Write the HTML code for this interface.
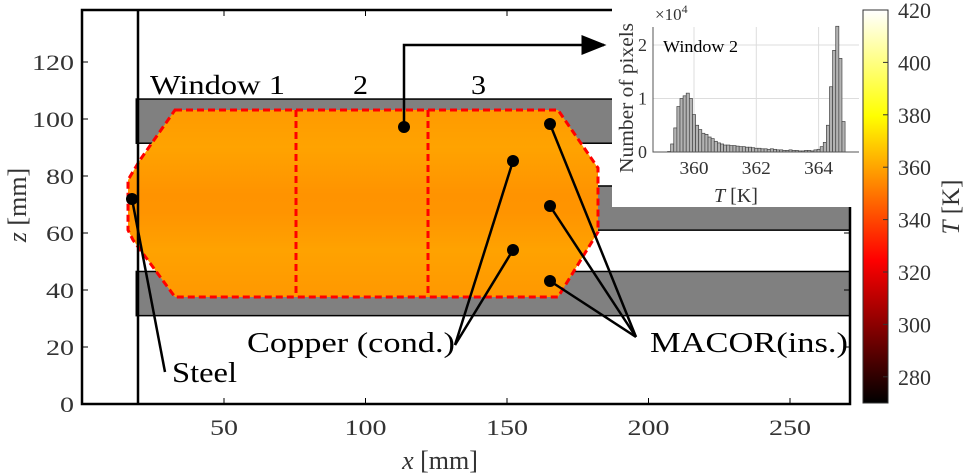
<!DOCTYPE html>
<html><head><meta charset="utf-8">
<style>
body{margin:0;background:#fff;}
svg{display:block;font-family:"Liberation Serif",serif;}
</style></head>
<body>
<svg id="fig" width="964" height="475" viewBox="0 0 964 475" xmlns="http://www.w3.org/2000/svg">
<defs>
<linearGradient id="cmap" x1="0" y1="1" x2="0" y2="0">
<stop offset="0" stop-color="#000"/><stop offset="0.365" stop-color="#ff0000"/><stop offset="0.73" stop-color="#ffff00"/><stop offset="1" stop-color="#ffffff"/>
</linearGradient>
<linearGradient id="orng" x1="0" y1="0" x2="0" y2="1">
<stop offset="0" stop-color="#ff9a00"/><stop offset="0.2" stop-color="#ffa300"/><stop offset="0.45" stop-color="#ff9300"/><stop offset="0.55" stop-color="#ff9400"/><stop offset="0.75" stop-color="#ffa200"/><stop offset="1" stop-color="#ff9800"/>
</linearGradient>
<marker id="arr" markerWidth="10" markerHeight="8" refX="9" refY="4" orient="auto"><path d="M0,0 L10,4 L0,8 Z" fill="#000"/></marker>
</defs>
<g id="main"></g>
<g id="inset"></g>
<g id="cbar"></g>
</svg>
<script>
const xTicks=[50,100,150,200,250];
const yTicks=[0,20,40,60,80,100,120];
const cbTicks=[280,300,320,340,360,380,400,420];
const histStart=359.15, histWidth=0.1;
const histCounts=[0.01,0.15,0.45,0.85,1.0,1.05,1.1,1.0,0.7,0.5,0.42,0.35,0.33,0.28,0.25,0.2,0.17,0.15,0.13,0.13,0.12,0.12,0.11,0.1,0.1,0.09,0.09,0.08,0.07,0.07,0.06,0.06,0.05,0.06,0.05,0.04,0.04,0.03,0.03,0.04,0.03,0.03,0.02,0.02,0.03,0.03,0.02,0.04,0.05,0.1,0.18,0.5,1.22,1.9,2.35,1.75,0.57];
const histXTicks=[360,362,364];
const histYTicks=[0,1,2];

const NS="http://www.w3.org/2000/svg";
function mk(p,tag,a,txt){const e=document.createElementNS(NS,tag);for(const k in a)e.setAttribute(k,a[k]);if(txt!==undefined)e.textContent=txt;p.appendChild(e);return e;}
const X=v=>82.5+v*2.83, Y=v=>404-v*2.85;
const main=document.getElementById('main');
let r;
r=mk(main,'rect',{x:X(19),y:Y(107),width:850-X(19),height:Y(91.5)-Y(107),fill:'#808080',stroke:'#000','stroke-width':1.5});

r=mk(main,'rect',{x:X(19),y:Y(76.5),width:850-X(19),height:Y(61)-Y(76.5),fill:'#808080',stroke:'#000','stroke-width':1.5});

r=mk(main,'rect',{x:X(19),y:Y(46.5),width:850-X(19),height:Y(31)-Y(46.5),fill:'#808080',stroke:'#000','stroke-width':1.5});

let poly=mk(main,'polygon',{points:'175,110 558,110 598,168 598,232 558,297 175,297 133,240 128,230 128,180 140,160',fill:'url(#orng)',stroke:'#ff0000','stroke-width':3,'stroke-dasharray':'7,4'});

[296,428].forEach((x,i)=>{const l=mk(main,'line',{x1:x,y1:110,x2:x,y2:297,stroke:'#ff0000','stroke-width':3,'stroke-dasharray':'7,4'});
});
let ax=mk(main,'rect',{x:82,y:10,width:768,height:394,fill:'none',stroke:'#000','stroke-width':2.5});

let st=mk(main,'line',{x1:138,y1:10,x2:138,y2:404,stroke:'#000','stroke-width':2.5});

xTicks.forEach(v=>{mk(main,'line',{x1:X(v),y1:404,x2:X(v),y2:398,stroke:'#000'});mk(main,'line',{x1:X(v),y1:10,x2:X(v),y2:16,stroke:'#000'});
const s=String(v);
const t=mk(main,'text',{x:X(v),y:435,'text-anchor':'middle','font-size':22,fill:'#333',textLength:s.length*14,lengthAdjust:'spacingAndGlyphs'},s);
});
yTicks.forEach(v=>{mk(main,'line',{x1:82,y1:Y(v),x2:88,y2:Y(v),stroke:'#000'});mk(main,'line',{x1:850,y1:Y(v),x2:844,y2:Y(v),stroke:'#000'});
const s=String(v);
const t=mk(main,'text',{x:74,y:Y(v)+8,'text-anchor':'end','font-size':22,fill:'#333',textLength:s.length*14,lengthAdjust:'spacingAndGlyphs'},s);
});
let xl=mk(main,'text',{x:440,y:469,'text-anchor':'middle','font-size':26,fill:'#333'});xl.innerHTML='<tspan font-style="italic">x</tspan> [mm]';

let yl=mk(main,'text',{x:0,y:0,'text-anchor':'middle','font-size':26,fill:'#333',transform:'translate(26,205) rotate(-90)'});yl.innerHTML='<tspan font-style="italic">z</tspan> [mm]';

[['Window 1',150,135],['2',353,15],['3',471,15]].forEach(([s,x,w])=>{const t=mk(main,'text',{x:x,y:94,'font-size':27,fill:'#000',textLength:w,lengthAdjust:'spacingAndGlyphs'},s);
});
const lines=[[132,199,165,372],[513,161,455,345],[513,250,455,345],[550,124,636,337],[550,206,636,337],[550,281,636,337]];
lines.forEach(l=>{const e=mk(main,'line',{x1:l[0],y1:l[1],x2:l[2],y2:l[3],stroke:'#000','stroke-width':2.5});
});
let ar=mk(main,'polyline',{points:'404,127 404,45 604,45',fill:'none',stroke:'#000','stroke-width':2.5,'marker-end':'url(#arr)'});

[[132,199],[404,127],[513,161],[513,250],[550,124],[550,206],[550,281]].forEach(p=>{const c=mk(main,'circle',{cx:p[0],cy:p[1],r:6,fill:'#000'});
});
[['Steel',172,382,65],['Copper (cond.)',247,352,208],['MACOR(ins.)',650,352,198]].forEach(([s,x,y,w])=>{const t=mk(main,'text',{x:x,y:y,'font-size':28,fill:'#000',textLength:w,lengthAdjust:'spacingAndGlyphs'},s);
});

const ins=document.getElementById('inset');
let bg=mk(ins,'rect',{x:612,y:0,width:248,height:207,fill:'#fff'});

const HX=v=>694+(v-360)*31.15, HY=v=>152-v*53.5;
histXTicks.forEach(v=>mk(ins,'line',{x1:HX(v),y1:27,x2:HX(v),y2:152,stroke:'#ddd'}));
histYTicks.forEach(v=>mk(ins,'line',{x1:653,y1:HY(v),x2:859,y2:HY(v),stroke:'#ddd'}));
histCounts.forEach((c,i)=>{const x0=HX(histStart+i*histWidth),x1=HX(histStart+(i+1)*histWidth);
const b=mk(ins,'rect',{x:x0,y:HY(c),width:x1-x0,height:HY(0)-HY(c),fill:'#b3b3b3',stroke:'#444','stroke-width':0.7});
});
let ib=mk(ins,'path',{d:'M653,27 L653,152 L859,152',fill:'none',stroke:'#555','stroke-width':1});

histXTicks.forEach(v=>{const t=mk(ins,'text',{x:HX(v),y:174,'text-anchor':'middle','font-size':18,fill:'#333',textLength:29,lengthAdjust:'spacingAndGlyphs'},v);
});
histYTicks.forEach(v=>{const t=mk(ins,'text',{x:647,y:HY(v)+6,'text-anchor':'end','font-size':18,fill:'#333'},v);
});
let ex=mk(ins,'text',{x:655,y:20,'font-size':17,fill:'#333'});ex.innerHTML='×10<tspan dy="-7" font-size="12">4</tspan>';

let w2=mk(ins,'text',{x:663,y:52,'font-size':17,fill:'#000',textLength:75,lengthAdjust:'spacingAndGlyphs'},'Window 2');

let ixl=mk(ins,'text',{x:736,y:202,'text-anchor':'middle','font-size':20,fill:'#333'});ixl.innerHTML='<tspan font-style="italic">T</tspan> [K]';

let iyl=mk(ins,'text',{x:0,y:0,'text-anchor':'middle','font-size':20,fill:'#333',transform:'translate(633,98) rotate(-90)',textLength:150,lengthAdjust:'spacingAndGlyphs'},'Number of pixels');


const cb=document.getElementById('cbar');
const CY=v=>403-(v-270)*2.62;
let cr=mk(cb,'rect',{x:863,y:10,width:25,height:393,fill:'url(#cmap)',stroke:'#333','stroke-width':1});

cbTicks.forEach(v=>{mk(cb,'line',{x1:883,y1:CY(v),x2:888,y2:CY(v),stroke:'#333'});
const t=mk(cb,'text',{x:898,y:CY(v)+8,'font-size':22,fill:'#333',textLength:33,lengthAdjust:'spacingAndGlyphs'},v);
});
let cl=mk(cb,'text',{x:0,y:0,'text-anchor':'middle','font-size':25,fill:'#333',transform:'translate(959,207) rotate(-90)'});cl.innerHTML='<tspan font-style="italic">T</tspan> [K]';

</script>
</body></html>
